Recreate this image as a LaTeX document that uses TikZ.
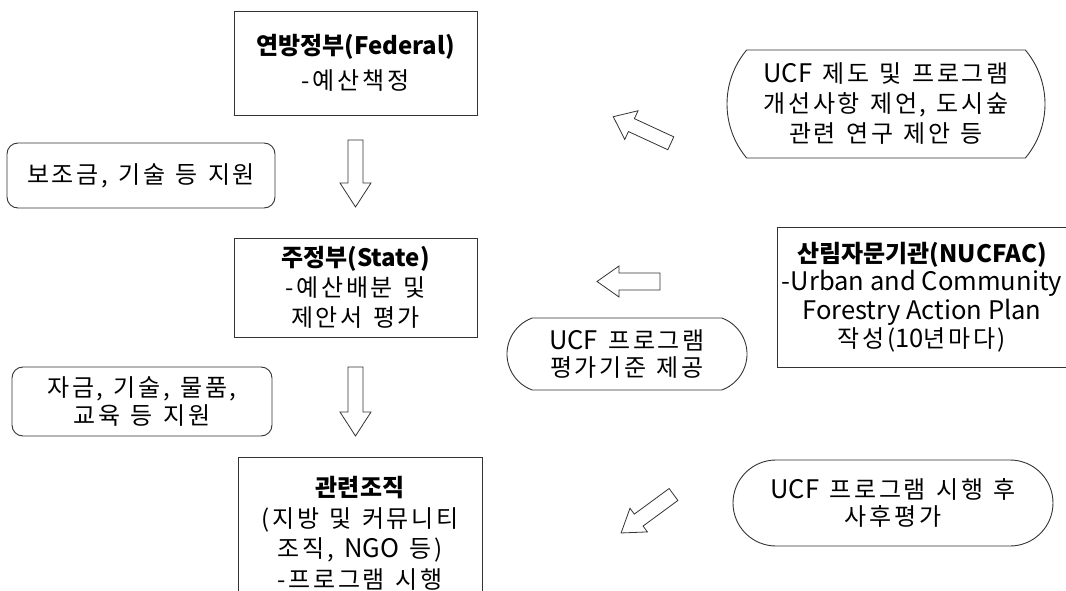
\documentclass[tikz,border=0pt]{standalone}
\usepackage{fontspec}
\setmainfont{Noto Sans CJK KR}[LetterSpace=11, WordSpace=1.3]
\newfontfamily\lat{Noto Sans CJK KR}[Scale=1.065]
\newfontfamily\ttl{Noto Sans CJK KR}
\usetikzlibrary{shapes.misc}
\tikzset{
  base/.style={draw=black!80, line width=0.9pt, align=center, inner sep=0pt, text=black,
    font=\fontsize{24}{30}\selectfont},
  sqbox/.style={base, rectangle},
  rbox/.style={base, rectangle, rounded corners=11pt},
  pill/.style={base, rounded rectangle},
  arrowline/.style={draw=black!80, line width=0.8pt, line join=miter},
  pics/blockarrow/.style args={#1/#2/#3/#4}{code={
    \draw[arrowline] (0,-#2) -- ({#1-#4},-#2) -- ({#1-#4},-#3) -- (#1,0)
      -- ({#1-#4},#3) -- ({#1-#4},#2) -- (0,#2) -- cycle;}}
}
\newcommand\ttlb[1]{{\ttl\bfseries #1}}
\begin{document}
\begin{tikzpicture}[x=1pt,y=-1pt]
\useasboundingbox (0,0) rectangle (1066,591);
\clip (0,0) rectangle (1066,591);

% main column boxes
\node[sqbox, minimum width=243, minimum height=104] (fed) at (355.5,63)
  {\ttlb{연방정부(Federal)}\\[5pt]-예산책정};
\node[sqbox, minimum width=243, minimum height=99] (state) at (355.5,287.5)
  {\ttlb{주정부(State)}\\-예산배분 및\\제안서 평가};
\node[sqbox, minimum width=244, minimum height=153, font=\fontsize{24}{30.5}\selectfont] (org) at (360,533.5)
  {\ttlb{관련조직}\\(지방 및 커뮤니티\\조직, {\lat NGO} 등)\\-프로그램 시행};

% side boxes on the left
\node[rbox, minimum width=268, minimum height=65] (sub) at (141,175.5)
  {보조금, 기술 등 지원};
\node[rbox, minimum width=260, minimum height=69, font=\fontsize{24}{28}\selectfont] (fund) at (142,401.5)
  {자금, 기술, 물품,\\교육 등 지원};

% advisory body
\node[sqbox, minimum width=290, minimum height=140, font=\fontsize{24}{28.5}\selectfont] (nucfac) at (922,297)
  {\ttlb{산림자문기관(NUCFAC)}\\{\lat -Urban and Community}\\{\lat Forestry Action Plan}\\작성({\lat 10}년마다)};

% pill shaped notes
\node[pill, rounded rectangle arc length=80, minimum width=318, minimum height=108] (sugg) at (886,104)
  {{\lat UCF} 제도 및 프로그램\\개선사항 제언, 도시숲\\관련 연구 제안 등};
\node[pill, rounded rectangle arc length=140, minimum width=240, minimum height=72, font=\fontsize{24}{27}\selectfont] (crit) at (627,354)
  {{\lat UCF} 프로그램\\평가기준 제공};
\node[pill, rounded rectangle arc length=180, minimum width=320, minimum height=86, font=\fontsize{24}{27}\selectfont] (post) at (893,503)
  {{\lat UCF} 프로그램 시행 후\\사후평가};

% block arrows
\path (355.5,140) pic[rotate=-90] {blockarrow={67/7.5/15.5/24}};
\path (355.5,367) pic[rotate=-90] {blockarrow={69/7.5/15.5/24}};
\path (660,281.5) pic[rotate=180] {blockarrow={63/8.5/15.5/22}};
\path (670.8,143.3) pic[rotate=155.2] {blockarrow={63.4/7.1/15.8/20}};
\path (673.5,494.5) pic[rotate=-143.7] {blockarrow={65/7.4/14.7/21.8}};
\end{tikzpicture}
\end{document}
